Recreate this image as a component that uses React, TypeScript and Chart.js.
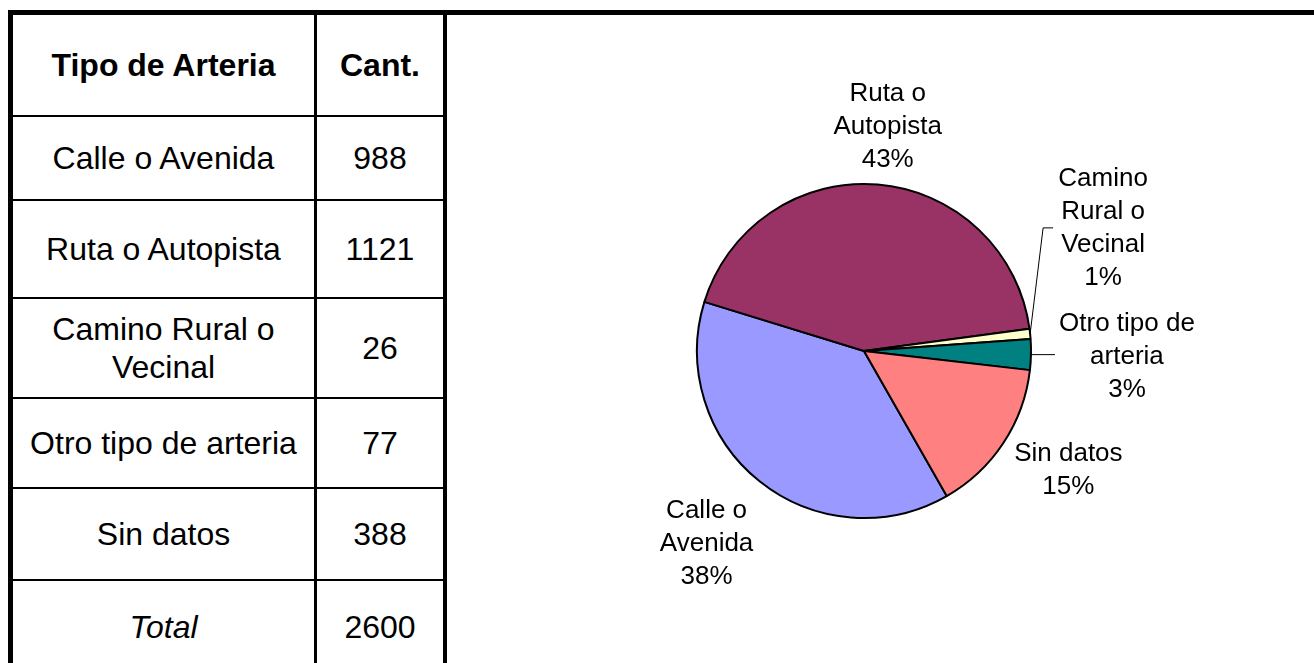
import React, { useEffect, useRef } from "react";
import { Chart, registerables } from "chart.js";

Chart.register(...registerables);

// ---- data ----
const headerLabels = ["Tipo de Arteria", "Cant."];
const categories = [
  "Calle o Avenida",
  "Ruta o Autopista",
  "Camino Rural o Vecinal",
  "Otro tipo de arteria",
  "Sin datos",
];
const tableLabelLines = [
  ["Calle o Avenida"],
  ["Ruta o Autopista"],
  ["Camino Rural o", "Vecinal"],
  ["Otro tipo de arteria"],
  ["Sin datos"],
];
const pieLabelLines = [
  ["Calle o", "Avenida"],
  ["Ruta o", "Autopista"],
  ["Camino", "Rural o", "Vecinal"],
  ["Otro tipo de", "arteria"],
  ["Sin datos"],
];
const values = [988, 1121, 26, 77, 388];
const totalLabel = "Total";

// ---- styles ----
const colors = ["#9999FF", "#993366", "#FFFFCC", "#008080", "#FF8080"];
const labelOffsets = [
  [-53, 62],
  [10, -58],
  [73, -106],
  [96, 2],
  [65, 27],
];
const leaderPoints: (number[][] | null)[] = [
  null,
  null,
  [
    [-60, 0],
    [-50, 0],
  ],
  [[-72, -2]],
  null,
];
const FONT = '"Liberation Sans", Arial, Helvetica, sans-serif';
const LABEL_SIZE = 26;
const LABEL_LH = 33;

const total = values.reduce((a, b) => a + b, 0);

const pieLabelsPlugin = {
  id: "pieLabels",
  afterDatasetsDraw(chart: any) {
    const ctx = chart.ctx;
    const meta = chart.getDatasetMeta(0);
    const data = chart.data.datasets[0].data as number[];
    const sum = data.reduce((a, b) => a + b, 0);
    ctx.save();
    meta.data.forEach((arc: any, i: number) => {
      const { x, y, startAngle, endAngle, outerRadius } = arc.getProps(
        ["x", "y", "startAngle", "endAngle", "outerRadius"],
        true
      );
      const mid = (startAngle + endAngle) / 2;
      const ox = x + Math.cos(mid) * outerRadius;
      const oy = y + Math.sin(mid) * outerRadius;
      const lx = ox + labelOffsets[i][0];
      const ly = oy + labelOffsets[i][1];
      const pct = Math.round((data[i] / sum) * 100) + "%";
      const lines = [...pieLabelLines[i], pct];
      ctx.fillStyle = "#000";
      ctx.font = `${LABEL_SIZE}px ${FONT}`;
      ctx.textAlign = "center";
      ctx.textBaseline = "middle";
      const y0 = ly - ((lines.length - 1) / 2) * LABEL_LH;
      lines.forEach((t, k) => ctx.fillText(t, lx, y0 + k * LABEL_LH));
      const lp = leaderPoints[i];
      if (lp) {
        ctx.strokeStyle = "#000";
        ctx.lineWidth = 1;
        ctx.beginPath();
        ctx.moveTo(ox, oy);
        lp.forEach((p) => ctx.lineTo(lx + p[0], ly + p[1]));
        ctx.stroke();
      }
    });
    ctx.restore();
  },
};

const box = (
  left: number,
  top: number,
  width: number,
  height: number
): React.CSSProperties => ({
  position: "absolute",
  left,
  top,
  width,
  height,
  background: "#000",
});

const cell = (
  left: number,
  top: number,
  width: number,
  height: number,
  extra: React.CSSProperties = {}
): React.CSSProperties => ({
  position: "absolute",
  left,
  top,
  width,
  height,
  display: "flex",
  flexDirection: "column",
  alignItems: "center",
  justifyContent: "center",
  textAlign: "center",
  fontFamily: FONT,
  fontSize: 32,
  lineHeight: "38px",
  color: "#000",
  ...extra,
});

const rowLines = [115, 199, 297, 397, 487, 579];
const rowTops = [15, 117, 201, 299, 399, 489, 581];
const rowBottoms = [115, 199, 297, 397, 487, 579, 672];

export default function App() {
  const canvasRef = useRef<HTMLCanvasElement | null>(null);

  useEffect(() => {
    if (!canvasRef.current) return;
    const chart = new Chart(canvasRef.current, {
      type: "pie",
      data: {
        labels: categories,
        datasets: [
          {
            data: values,
            backgroundColor: colors,
            borderColor: "#000",
            borderWidth: 2,
          },
        ],
      },
      options: {
        animation: false,
        responsive: false,
        maintainAspectRatio: false,
        rotation: 150.3,
        radius: 167,
        layout: { padding: { left: 214, right: 250, top: 135, bottom: 112 } },
        plugins: {
          legend: { display: false },
          tooltip: { enabled: false },
        },
      },
      plugins: [pieLabelsPlugin],
    });
    return () => chart.destroy();
  }, []);

  const col1L = 13,
    col1W = 301,
    col2L = 317,
    col2W = 126;

  return (
    <div
      style={{
        position: "absolute",
        left: 0,
        top: 0,
        width: 1314,
        height: 663,
        overflow: "hidden",
        background: "#fff",
      }}
    >
      {/* borders */}
      <div style={box(8, 10, 1306, 5)} />
      <div style={box(8, 10, 5, 653)} />
      <div style={box(314, 15, 3, 648)} />
      <div style={box(443, 15, 4, 648)} />
      {rowLines.map((y, i) => (
        <div key={i} style={box(13, y, 430, 2)} />
      ))}
      {/* header */}
      <div
        style={cell(col1L, rowTops[0], col1W, rowBottoms[0] - rowTops[0], {
          fontWeight: "bold",
        })}
      >
        {headerLabels[0]}
      </div>
      <div
        style={cell(col2L, rowTops[0], col2W, rowBottoms[0] - rowTops[0], {
          fontWeight: "bold",
        })}
      >
        {headerLabels[1]}
      </div>
      {tableLabelLines.map((lines, i) => (
        <React.Fragment key={i}>
          <div style={cell(col1L, rowTops[i + 1], col1W, rowBottoms[i + 1] - rowTops[i + 1])}>
            {lines.map((t, k) => (
              <div key={k}>{t}</div>
            ))}
          </div>
          <div style={cell(col2L, rowTops[i + 1], col2W, rowBottoms[i + 1] - rowTops[i + 1])}>
            {values[i]}
          </div>
        </React.Fragment>
      ))}
      <div style={cell(col1L, rowTops[6], col1W, rowBottoms[6] - rowTops[6], { fontStyle: "italic" })}>
        {totalLabel}
      </div>
      <div style={cell(col2L, rowTops[6], col2W, rowBottoms[6] - rowTops[6])}>{total}</div>
      {/* pie */}
      <canvas
        ref={canvasRef}
        width={864}
        height={647}
        style={{ position: "absolute", left: 450, top: 16, width: 864, height: 647 }}
      />
    </div>
  );
}
